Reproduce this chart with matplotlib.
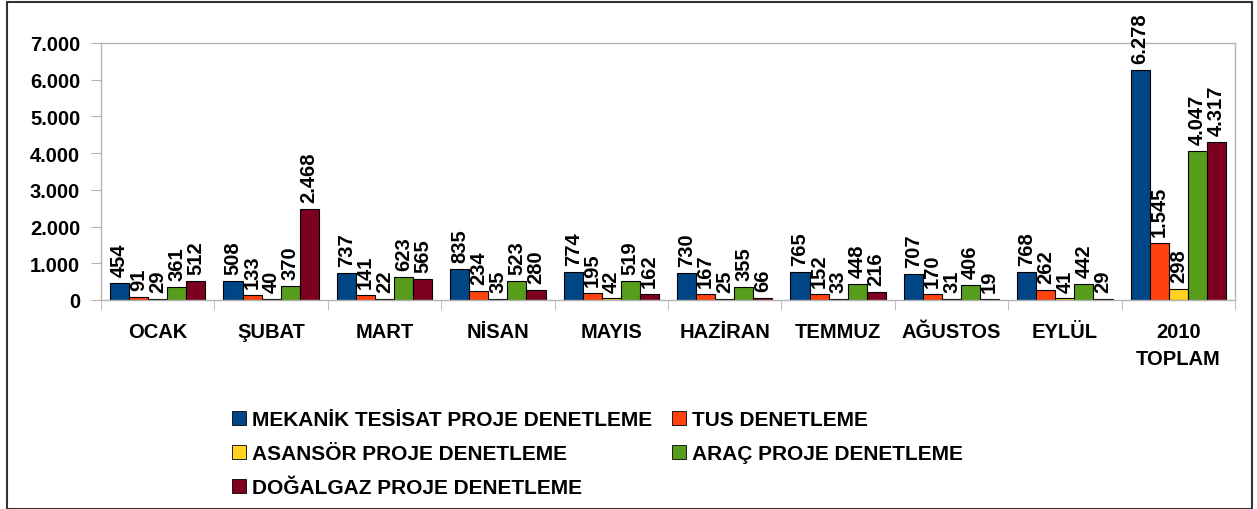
import matplotlib
matplotlib.use("Agg")
import matplotlib.pyplot as plt
from matplotlib.patches import Rectangle
import numpy as np

months = ["OCAK", "ŞUBAT", "MART", "NİSAN", "MAYIS", "HAZİRAN",
          "TEMMUZ", "AĞUSTOS", "EYLÜL", "2010\nTOPLAM"]
series_names = ["MEKANİK TESİSAT PROJE DENETLEME", "TUS DENETLEME",
                "ASANSÖR PROJE DENETLEME", "ARAÇ PROJE DENETLEME",
                "DOĞALGAZ PROJE DENETLEME"]
mekanik = [454, 508, 737, 835, 774, 730, 765, 707, 768, 6278]
tus = [91, 133, 141, 234, 195, 167, 152, 170, 262, 1545]
asansor = [29, 40, 22, 35, 42, 25, 33, 31, 41, 298]
arac = [361, 370, 623, 523, 519, 355, 448, 406, 442, 4047]
dogalgaz = [512, 2468, 565, 280, 162, 66, 216, 19, 29, 4317]
colors = ["#004586", "#ff420e", "#ffd320", "#579d1c", "#7e0021"]

plt.rcParams['font.family'] = ['Liberation Sans', 'DejaVu Sans']

fig = plt.figure(figsize=(12.57, 5.10), dpi=100)
ax = fig.add_axes([101/1257, 1-301/510, (1235-101)/1257, (301-44)/510])

def fmt(v):
    return "{:,}".format(v).replace(",", ".")

x = np.arange(len(months))
w = 0.168
all_series = [mekanik, tus, asansor, arac, dogalgaz]
handles = []
for i, vals in enumerate(all_series):
    pos = x + (i - 2) * w
    b = ax.bar(pos, vals, w, color=colors[i], edgecolor="black", linewidth=0.8,
               label=series_names[i], zorder=2)
    handles.append(b)
    for px, v in zip(pos, vals):
        ax.annotate(fmt(v), (px, v), xytext=(0, 5), textcoords="offset points",
                    rotation=90, ha="center", va="bottom",
                    fontsize=14.5, fontweight="bold", zorder=3)

ax.set_xlim(-0.5, len(months) - 0.5)
ax.set_ylim(0, 7000)
ax.set_yticks(range(0, 7001, 1000))
ax.set_yticklabels([fmt(v) for v in range(0, 7001, 1000)],
                   fontsize=14.5, fontweight="bold")
ax.set_xticks(x)
ax.set_xticklabels(months, fontsize=14.5, fontweight="bold", linespacing=1.5)
ax.tick_params(axis="x", which="major", length=0, pad=16)
ax.set_xticks(np.arange(-0.5, len(months)), minor=True)
ax.tick_params(axis="x", which="minor", length=7, color="#b3b3b3")
ax.tick_params(axis="y", length=7, color="#b3b3b3", pad=8)
for s in ax.spines.values():
    s.set_color("#b3b3b3")
    s.set_linewidth(1)

# legend filled row by row like the original
order = [0, 2, 4, 1, 3]
leg = fig.legend([handles[k] for k in order], [series_names[k] for k in order],
                 loc="upper left", bbox_to_anchor=(222/1257, 1-401/510),
                 ncol=2, frameon=False, borderpad=0,
                 prop={"size": 15, "weight": "bold"},
                 handlelength=0.65, handleheight=0.65, handletextpad=0.3,
                 columnspacing=0.95, labelspacing=0.72)
for h in leg.legend_handles:
    h.set_edgecolor("black")
    h.set_linewidth(0.6)

# outer border
fig.patches.append(Rectangle((7/1257, 0), 1245/1257, 1 - 3/510,
                             transform=fig.transFigure, fill=False,
                             edgecolor="#333333", linewidth=1.5))

fig.savefig("out.png", dpi=100)
